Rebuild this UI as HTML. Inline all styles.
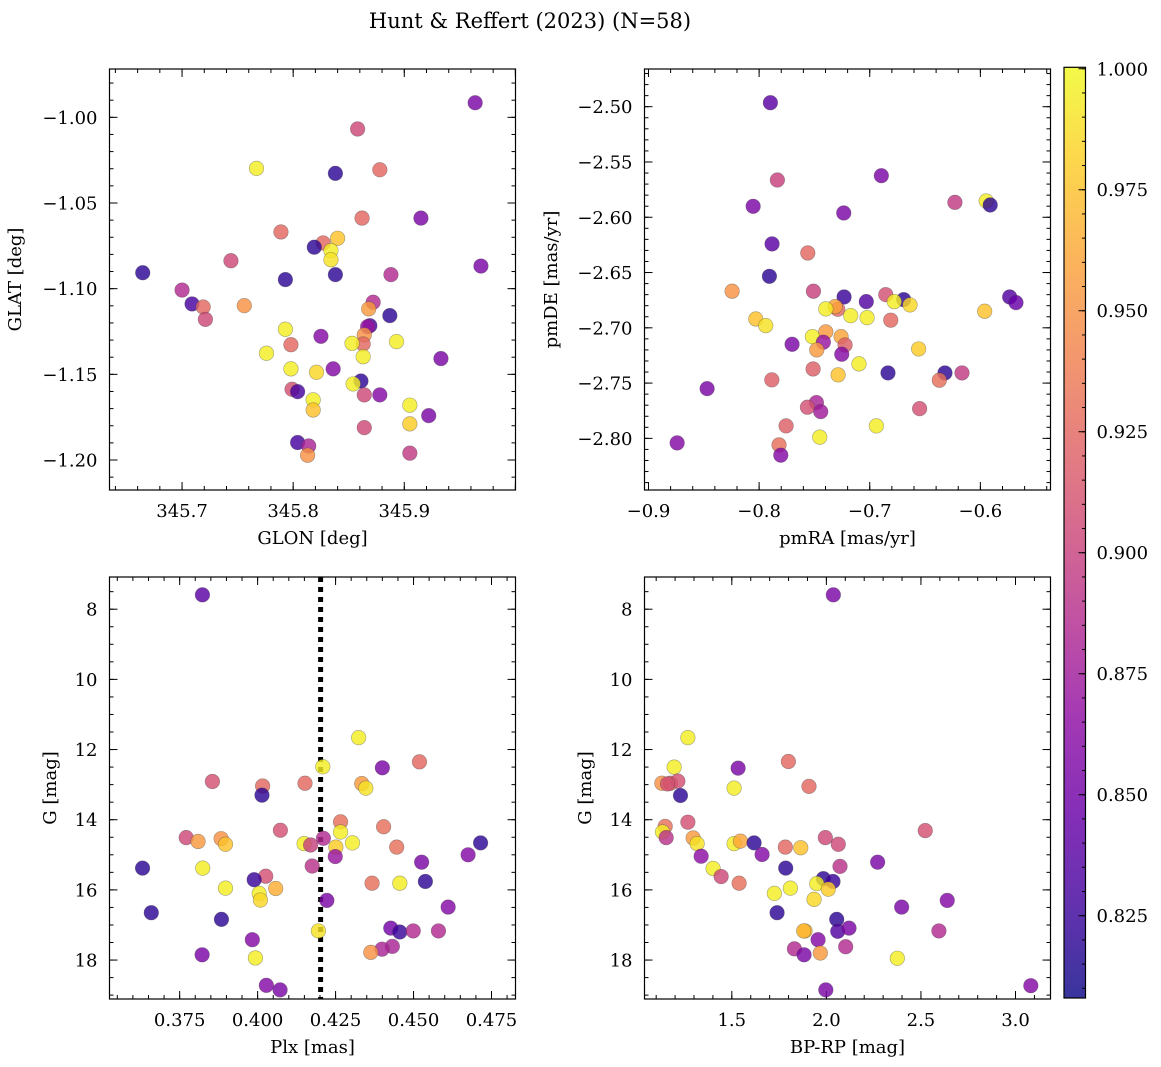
<!DOCTYPE html>
<html><head><meta charset="utf-8">
<style>
html,body{margin:0;padding:0;background:#fff;}
svg{display:block;font-family:"DejaVu Serif","Liberation Serif",serif;}
</style></head>
<body>
<svg id="fig" width="1161" height="1067" viewBox="0 0 1161 1067" xmlns="http://www.w3.org/2000/svg">
<text x="530" y="28" text-anchor="middle" font-size="21">Hunt &amp; Reffert (2023) (N=58)</text>
</svg>
<script>
// ---- data ----
const glon=[345.9638,345.858,345.767,345.838,345.878,345.862,345.915,345.789,345.840,345.827,345.819,345.834,345.834,345.744,345.6646,345.793,345.838,345.888,345.969,345.700,345.709,345.719,345.721,345.756,345.872,345.868,345.887,345.869,345.867,345.864,345.863,345.793,345.825,345.853,345.798,345.893,345.863,345.776,345.933,345.798,345.821,345.836,345.861,345.854,345.799,345.804,345.864,345.878,345.818,345.818,345.905,345.922,345.905,345.864,345.804,345.814,345.813,345.905];
const glat=[-0.9915,-1.0068,-1.0298,-1.0327,-1.0306,-1.0588,-1.0588,-1.0669,-1.0706,-1.0733,-1.0758,-1.0778,-1.0831,-1.0837,-1.0907,-1.0947,-1.0918,-1.0918,-1.0868,-1.1008,-1.1089,-1.1107,-1.1179,-1.1099,-1.1079,-1.1118,-1.1157,-1.1216,-1.1222,-1.1270,-1.1323,-1.1237,-1.1278,-1.1319,-1.1327,-1.1309,-1.1397,-1.1377,-1.1408,-1.1468,-1.1488,-1.1468,-1.1539,-1.1556,-1.1587,-1.1601,-1.1620,-1.1620,-1.1649,-1.1708,-1.1680,-1.1741,-1.1789,-1.1811,-1.1898,-1.1918,-1.1972,-1.1960];
const prob1=[0.855,0.905,0.995,0.82,0.925,0.925,0.855,0.925,0.975,0.925,0.82,0.995,0.99,0.905,0.82,0.82,0.82,0.885,0.855,0.885,0.83,0.925,0.905,0.95,0.885,0.955,0.82,0.83,0.87,0.95,0.925,0.995,0.86,0.995,0.925,0.995,0.995,0.995,0.855,0.995,0.985,0.86,0.82,0.995,0.91,0.83,0.905,0.86,0.995,0.975,0.995,0.855,0.98,0.905,0.83,0.88,0.95,0.895];

const pmra=[-0.7898,-0.7835,-0.6895,-0.8054,-0.7235,-0.6230,-0.5947,-0.5911,-0.7883,-0.7560,-0.7907,-0.8244,-0.7509,-0.7232,-0.7031,-0.6855,-0.6693,-0.6778,-0.6636,-0.5735,-0.5678,-0.7289,-0.7313,-0.7397,-0.7172,-0.7024,-0.6810,-0.5961,-0.8030,-0.7940,-0.7518,-0.7397,-0.7259,-0.7419,-0.7223,-0.7479,-0.7702,-0.7253,-0.6558,-0.7097,-0.7512,-0.7286,-0.6835,-0.6320,-0.6371,-0.6166,-0.7885,-0.8470,-0.7482,-0.7563,-0.7443,-0.6549,-0.7756,-0.6940,-0.7452,-0.8741,-0.7820,-0.7804];
const pmde=[-2.4964,-2.5663,-2.5624,-2.5901,-2.5961,-2.5865,-2.5853,-2.5889,-2.6241,-2.6323,-2.6534,-2.6669,-2.6669,-2.6721,-2.6763,-2.6700,-2.6745,-2.6763,-2.6793,-2.6721,-2.6772,-2.6832,-2.6808,-2.6829,-2.6890,-2.6908,-2.6931,-2.6850,-2.6920,-2.6980,-2.7080,-2.7037,-2.7080,-2.7130,-2.7155,-2.7200,-2.7149,-2.7239,-2.7191,-2.7326,-2.7372,-2.7426,-2.7408,-2.7408,-2.7474,-2.7408,-2.7471,-2.7550,-2.7676,-2.7718,-2.7758,-2.7731,-2.7887,-2.7887,-2.7989,-2.8041,-2.8059,-2.8152];
const prob2=[0.84,0.9,0.855,0.855,0.855,0.895,0.995,0.82,0.84,0.925,0.82,0.95,0.9,0.825,0.835,0.91,0.82,0.995,0.985,0.835,0.845,0.925,0.96,0.995,0.995,0.995,0.925,0.975,0.975,0.99,0.995,0.955,0.96,0.87,0.92,0.955,0.855,0.86,0.98,0.995,0.92,0.975,0.82,0.82,0.93,0.895,0.92,0.855,0.88,0.91,0.875,0.91,0.92,0.995,0.995,0.86,0.93,0.86];

const plx=[0.3823,0.4324,0.4209,0.4400,0.4519,0.3855,0.4016,0.4014,0.4152,0.4334,0.4347,0.4266,0.4266,0.4404,0.4073,0.3771,0.3809,0.3883,0.3897,0.4149,0.4170,0.4211,0.4251,0.4304,0.4446,0.4249,0.4715,0.4675,0.4526,0.3631,0.3824,0.4175,0.4026,0.3989,0.4367,0.4456,0.4538,0.3897,0.4058,0.4005,0.4009,0.4222,0.3659,0.4611,0.3884,0.4195,0.4427,0.4456,0.4499,0.4580,0.3983,0.4432,0.4399,0.4363,0.3822,0.3993,0.4028,0.4072];
const gmag3=[7.59,11.66,12.49,12.52,12.35,12.91,13.04,13.30,12.96,12.97,13.10,14.06,14.35,14.20,14.30,14.51,14.62,14.54,14.70,14.68,14.72,14.53,14.78,14.66,14.78,15.05,14.66,15.00,15.21,15.38,15.38,15.32,15.61,15.71,15.81,15.81,15.76,15.95,15.96,16.10,16.29,16.30,16.65,16.49,16.84,17.17,17.09,17.20,17.17,17.17,17.42,17.61,17.69,17.78,17.85,17.94,18.72,18.85];
const prob3=[0.84,0.995,0.995,0.855,0.925,0.91,0.925,0.82,0.925,0.955,0.99,0.93,0.995,0.93,0.91,0.905,0.955,0.95,0.975,0.995,0.9,0.885,0.98,0.995,0.93,0.87,0.82,0.86,0.855,0.82,0.995,0.89,0.91,0.825,0.93,0.995,0.82,0.995,0.965,0.995,0.985,0.855,0.82,0.86,0.82,0.99,0.85,0.825,0.885,0.885,0.86,0.88,0.88,0.95,0.855,0.995,0.86,0.855];

const bprp=[2.0367,1.2676,1.1952,1.5333,1.799,1.1302,1.1756,1.2148,1.512,1.908,1.2285,1.2676,1.1477,1.1334,1.153,1.2956,1.3167,1.3378,1.512,1.5455,1.6178,1.660,1.401,1.4435,1.5386,1.783,1.8645,1.9945,2.063,2.072,1.785,2.271,2.5227,1.984,2.035,1.949,2.010,1.8096,1.725,1.9348,2.639,2.398,1.7393,2.0547,1.887,2.060,2.1197,2.595,1.956,2.102,1.831,1.882,1.968,2.375,1.997,3.081,1.88,1.16];
const gmag4=[7.59,11.66,12.50,12.53,12.34,12.96,12.96,12.90,13.10,13.05,13.31,14.07,14.19,14.35,14.51,14.52,14.68,15.04,14.68,14.61,14.66,14.99,15.39,15.62,15.81,14.78,14.80,14.51,14.70,15.33,15.38,15.21,14.31,15.68,15.76,15.82,15.98,15.95,16.10,16.27,16.30,16.49,16.65,16.84,17.17,17.18,17.09,17.17,17.42,17.62,17.68,17.85,17.80,17.95,18.85,18.73,17.17,12.98];
const prob4=[0.855,0.995,0.995,0.855,0.925,0.95,0.925,0.91,0.995,0.925,0.82,0.91,0.93,0.995,0.89,0.955,0.99,0.865,0.995,0.96,0.82,0.86,0.995,0.905,0.93,0.925,0.975,0.905,0.905,0.89,0.82,0.855,0.91,0.82,0.825,0.995,0.98,0.995,0.995,0.985,0.86,0.855,0.82,0.82,0.97,0.835,0.855,0.885,0.86,0.885,0.885,0.855,0.955,0.995,0.855,0.86,0.97,0.91];

const cbTicks=["0.825","0.850","0.875","0.900","0.925","0.950","0.975","1.000"];
const plxRef=[0.4202];

// ---- helpers ----
const NS="http://www.w3.org/2000/svg";
const svg=document.getElementById('fig');
function mk(tag,attrs,parent){const e=document.createElementNS(NS,tag);for(const k in attrs)e.setAttribute(k,attrs[k]);(parent||svg).appendChild(e);return e;}
const VMIN=0.808, VMAX=1.0003;
const plasma=[[13,8,135],[65,4,157],[106,0,168],[143,13,164],[177,42,144],[204,71,120],[225,100,98],[242,132,75],[252,166,54],[252,206,37],[240,249,33]];
function cmap(t){t=Math.max(0,Math.min(1,t));const f=t*10,i=Math.min(9,Math.floor(f)),r=f-i;const a=plasma[i],b=plasma[i+1];return `rgb(${Math.round(a[0]+(b[0]-a[0])*r)},${Math.round(a[1]+(b[1]-a[1])*r)},${Math.round(a[2]+(b[2]-a[2])*r)})`;}
function col(p){return cmap((p-VMIN)/(VMAX-VMIN));}
function fmt(v,d){let s=v.toFixed(d);if(v<0)s='\u2212'+s.slice(1);return s;}

function panel(cfg){
  const {L,R,T,B,x0,x1,y0,y1,name}=cfg;
  const g=mk('g',{});
  
  
  const sx=v=>L+(v-x0)/(x1-x0)*(R-L);
  const sy=v=>T+(v-y0)/(y1-y0)*(B-T);
  const tg=mk('g',{stroke:'#000','stroke-width':1},g);
  function ticks(lo,hi,step,len,axis){
    const n0=Math.ceil(Math.min(lo,hi)/step-1e-6),n1=Math.floor(Math.max(lo,hi)/step+1e-6);
    for(let n=n0;n<=n1;n++){const v=n*step;
      if(axis==='x'){const x=sx(v);mk('line',{x1:x,x2:x,y1:B,y2:B-len},tg);mk('line',{x1:x,x2:x,y1:T,y2:T+len},tg);}
      else{const y=sy(v);mk('line',{x1:L,x2:L+len,y1:y,y2:y},tg);mk('line',{x1:R,x2:R-len,y1:y,y2:y},tg);}
    }
  }
  ticks(x0,x1,cfg.xminor,4,'x');ticks(x0,x1,cfg.xmajor,8,'x');
  ticks(y0,y1,cfg.yminor,4,'y');ticks(y0,y1,cfg.ymajor,8,'y');
  cfg.xlabels.forEach(v=>{const t=mk('text',{x:sx(v),y:B+27,'text-anchor':'middle','font-size':18},g);t.textContent=fmt(v,cfg.xd);
    
    });
  cfg.ylabels.forEach(v=>{const t=mk('text',{x:L-12,y:sy(v)+6.5,'text-anchor':'end','font-size':18},g);t.textContent=fmt(v,cfg.yd);
    
    });
  const xl=mk('text',{x:(L+R)/2,y:B+54,'text-anchor':'middle','font-size':18},g);xl.textContent=cfg.xt;
  
  
  const yx=cfg.ytx, yy=(T+B)/2;
  const yl=mk('text',{x:yx,y:yy,'text-anchor':'middle','font-size':18,transform:`rotate(-90 ${yx} ${yy})`},g);yl.textContent=cfg.yt;
  
  
  if(cfg.vline){cfg.vline.forEach(v=>{const ln=mk('line',{x1:sx(v),x2:sx(v),y1:T,y2:B,stroke:'#000','stroke-width':5,'stroke-dasharray':'5,5'},g);
    
    });}
  const cg=mk('g',{},g);
  cfg.xs.forEach((xv,i)=>{
    const c=mk('circle',{cx:sx(xv),cy:sy(cfg.ys[i]),r:7.3,fill:col(cfg.ps[i]),'fill-opacity':0.82,stroke:'rgba(60,60,60,0.45)','stroke-width':0.6},cg);
    
    
  });
  mk('rect',{x:L,y:T,width:R-L,height:B-T,fill:'none',stroke:'#000','stroke-width':1.2},g);
}

panel({name:'glon-glat-panel',L:109.5,R:515.5,T:69,B:490,x0:345.6347,x1:346.0001,y0:-0.9718,y1:-1.2175,
  xminor:0.02,xmajor:0.1,yminor:0.01,ymajor:0.05,xlabels:[345.7,345.8,345.9],xd:1,ylabels:[-1.00,-1.05,-1.10,-1.15,-1.20],yd:2,
  xt:'GLON [deg]',yt:'GLAT [deg]',ytx:21,xs:glon,ys:glat,ps:prob1});
panel({name:'pmra-pmde-panel',L:644.5,R:1050.5,T:69,B:490,x0:-0.9036,x1:-0.5366,y0:-2.4659,y1:-2.8467,
  xminor:0.02,xmajor:0.1,yminor:0.01,ymajor:0.05,xlabels:[-0.9,-0.8,-0.7,-0.6],xd:1,ylabels:[-2.50,-2.55,-2.60,-2.65,-2.70,-2.75,-2.80],yd:2,
  xt:'pmRA [mas/yr]',yt:'pmDE [mas/yr]',ytx:557,xs:pmra,ys:pmde,ps:prob2});
panel({name:'plx-g-panel',L:109.5,R:515.5,T:577,B:999,x0:0.3525,x1:0.4827,y0:7.082,y1:19.11,
  xminor:0.005,xmajor:0.025,yminor:0.5,ymajor:2,xlabels:[0.375,0.400,0.425,0.450,0.475],xd:3,ylabels:[8,10,12,14,16,18],yd:0,
  xt:'Plx [mas]',yt:'G [mag]',ytx:56,xs:plx,ys:gmag3,ps:prob3,vline:plxRef});
panel({name:'bprp-g-panel',L:644.5,R:1050.5,T:577,B:999,x0:1.0383,x1:3.185,y0:7.082,y1:19.11,
  xminor:0.1,xmajor:0.5,yminor:0.5,ymajor:2,xlabels:[1.5,2.0,2.5,3.0],xd:1,ylabels:[8,10,12,14,16,18],yd:0,
  xt:'BP-RP [mag]',yt:'G [mag]',ytx:591,xs:bprp,ys:gmag4,ps:prob4});

// ---- colorbar ----
(function(){
  const L=1064,R=1085.5,T=67.3,B=998;
  const cb=mk('g',{});
  
  
  const defs=mk('defs',{},cb);
  const lg=mk('linearGradient',{id:'cbg',x1:0,y1:1,x2:0,y2:0},defs);
  for(let i=0;i<=20;i++){const t=i/20;mk('stop',{offset:t,'stop-color':cmap(t)},lg);}
  mk('rect',{x:L,y:T,width:R-L,height:B-T,fill:'url(#cbg)','fill-opacity':0.82},cb);
  const sy=v=>T+(VMAX-v)/(VMAX-VMIN)*(B-T);
  for(let n=Math.ceil(VMIN/0.005);n*0.005<=VMAX+1e-9;n++){const y=sy(n*0.005);mk('line',{x1:R,x2:R-3.5,y1:y,y2:y,stroke:'#000','stroke-width':1},cb);}
  cbTicks.forEach(s=>{const v=parseFloat(s),y=sy(v);
    mk('line',{x1:R,x2:R-7,y1:y,y2:y,stroke:'#000','stroke-width':1},cb);
    const t=mk('text',{x:R+11,y:y+6.5,'font-size':18},cb);t.textContent=s;
    
    });
  mk('rect',{x:L,y:T,width:R-L,height:B-T,fill:'none',stroke:'#000','stroke-width':1.2},cb);
})();
</script>
</body></html>
